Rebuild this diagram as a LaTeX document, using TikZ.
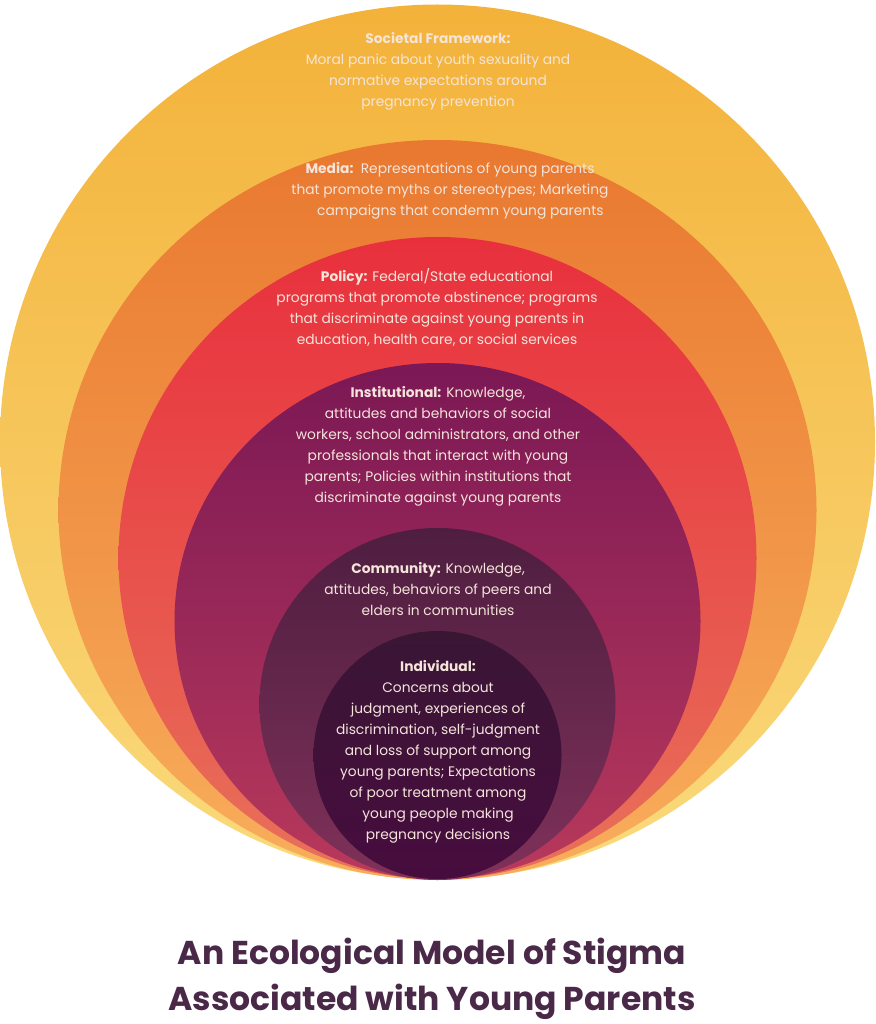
\documentclass[tikz,border=0pt]{standalone}
\usepackage{fontspec}
\setmainfont{Poppins}
\definecolor{txt}{HTML}{F4E4DA}
\definecolor{ttl}{HTML}{4A2848}
\definecolor{sA}{HTML}{F3B23A}\definecolor{sB}{HTML}{F8CB66}\definecolor{sC}{HTML}{FADA7C}
\definecolor{mA}{HTML}{E97830}\definecolor{mB}{HTML}{F5925A}\definecolor{mC}{HTML}{F8AE5C}
\definecolor{pA}{HTML}{E8303D}\definecolor{pB}{HTML}{E95A5A}\definecolor{pC}{HTML}{E8715A}
\definecolor{iA}{HTML}{7B1855}\definecolor{iB}{HTML}{9E2B5B}\definecolor{iC}{HTML}{B8395B}
\definecolor{cA}{HTML}{4E1E40}\definecolor{cC}{HTML}{7F3159}
\definecolor{dA}{HTML}{3A1635}\definecolor{dC}{HTML}{470C3E}
\begin{document}
\begin{tikzpicture}[x=1pt,y=-1pt,
  ringtext/.style={text=txt,align=center,inner sep=0pt,font=\fontsize{13.8}{21}\selectfont},
  ttltext/.style={text=ttl,align=center,inner sep=0pt,font=\bfseries\fontsize{33}{46}\selectfont}]
\useasboundingbox (0,0) rectangle (875,1024);
% rings
\shade[top color=sA,middle color=sB,bottom color=sC]
  (437.5,442) ellipse [x radius=437.5pt, y radius=437.5pt];
\shade[top color=mA,middle color=mB,bottom color=mC]
  (437.5,510) ellipse [x radius=379pt, y radius=370pt];
\shade[top color=pA,middle color=pB,bottom color=pC]
  (437.5,558) ellipse [x radius=319pt, y radius=321pt];
\shade[top color=iA,middle color=iB,bottom color=iC]
  (437.5,621) ellipse [x radius=263pt, y radius=258pt];
\shade[top color=cA,bottom color=cC]
  (437.5,704) ellipse [x radius=178pt, y radius=176pt];
\shade[top color=dA,bottom color=dC]
  (437.5,755) ellipse [x radius=124pt, y radius=124pt];
% texts
\node[ringtext] (soc) at (438,71) {\textbf{Societal Framework:}\\Moral panic about youth sexuality and\\normative expectations around\\pregnancy prevention};
\node[ringtext] (med) at (450,190.5) {\textbf{Media:}\ \ Representations of young parents\\that promote myths or stereotypes; Marketing\\\hspace*{1.5em}campaigns that condemn young parents};
\node[ringtext] (pol) at (437,307) {\textbf{Policy:} Federal/State educational\\programs that promote abstinence; programs\\that discriminate against young parents in\\education, health care, or social services};
\node[ringtext] (ins) at (438,446.5) {\textbf{Institutional:} Knowledge,\\attitudes and behaviors of social\\workers, school administrators, and other\\professionals that interact with young\\parents; Policies within institutions that\\discriminate against young parents};
\node[ringtext] (com) at (438,589.5) {\textbf{Community:} Knowledge,\\attitudes, behaviors of peers and\\elders in communities};
\node[ringtext] (ind) at (438,752) {\textbf{Individual:}\\Concerns about\\judgment, experiences of\\discrimination, self-judgment\\and loss of support among\\young parents; Expectations\\of poor treatment among\\young people making\\pregnancy decisions};
\node[ttltext] (title) at (432,979) {An Ecological Model of Stigma\\Associated with Young Parents};
\end{tikzpicture}
\end{document}
